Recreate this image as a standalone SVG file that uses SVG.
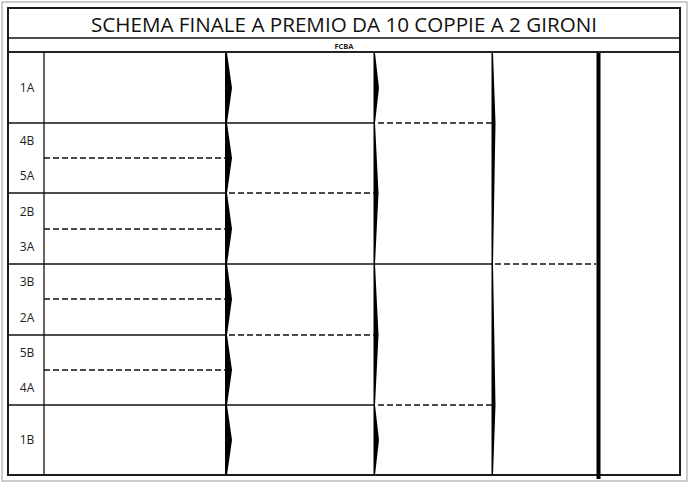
<svg xmlns="http://www.w3.org/2000/svg" width="690" height="484" viewBox="0 0 690 484">
<style>
.frame{fill:none;stroke:#1a1a1a;stroke-width:2}
.solid{stroke:#111;stroke-width:1.3}
.dash{stroke:#111;stroke-width:1.3;stroke-dasharray:6,3}
.lbl{font-family:"Open Sans","Liberation Sans",sans-serif;font-size:12px;fill:#222;text-anchor:middle}
.wedge{fill:#000}
</style>
<rect x="0" y="0" width="690" height="484" fill="#fff"/>
<rect x="2" y="2" width="685" height="479" fill="none" stroke="#999" stroke-width="1"/>
<g id="title">
<text x="344" y="32" font-family="'Open Sans','Liberation Sans',sans-serif" font-size="20" fill="#111" text-anchor="middle" textLength="506" lengthAdjust="spacingAndGlyphs">SCHEMA FINALE A PREMIO DA 10 COPPIE A 2 GIRONI</text>
<text x="344" y="49" font-family="'Open Sans','Liberation Sans',sans-serif" font-size="7.5" font-weight="bold" fill="#222" text-anchor="middle">FCBA</text>
</g>
<g id="grid">
<rect class="frame" x="8" y="8" width="672" height="467"/>
<line class="solid" x1="8" y1="38" x2="680" y2="38"/>
<line x1="8" y1="52" x2="680" y2="52" stroke="#222" stroke-width="2"/>
<line class="solid" x1="44" y1="52" x2="44" y2="475"/>
</g>
<g id="labels">
<text class="lbl" x="27" y="92">1A</text>
<text class="lbl" x="27" y="145">4B</text>
<text class="lbl" x="27" y="180">5A</text>
<text class="lbl" x="27" y="216">2B</text>
<text class="lbl" x="27" y="251">3A</text>
<text class="lbl" x="27" y="286">3B</text>
<text class="lbl" x="27" y="322">2A</text>
<text class="lbl" x="27" y="357">5B</text>
<text class="lbl" x="27" y="392">4A</text>
<text class="lbl" x="27" y="444">1B</text>
</g>
<g id="connectors">
<line class="solid" x1="8" y1="123" x2="375" y2="123"/>
<line class="dash" x1="378" y1="123" x2="492" y2="123"/>
<line class="dash" x1="44" y1="158" x2="226" y2="158"/>
<line class="solid" x1="8" y1="193" x2="226" y2="193"/>
<line class="dash" x1="229" y1="193" x2="374" y2="193"/>
<line class="dash" x1="44" y1="229" x2="226" y2="229"/>
<line class="solid" x1="8" y1="264" x2="493" y2="264"/>
<line class="dash" x1="495" y1="264" x2="596" y2="264"/>
<line class="dash" x1="44" y1="299" x2="226" y2="299"/>
<line class="solid" x1="8" y1="335" x2="226" y2="335"/>
<line class="dash" x1="229" y1="335" x2="374" y2="335"/>
<line class="dash" x1="44" y1="370" x2="226" y2="370"/>
<line class="solid" x1="8" y1="405" x2="375" y2="405"/>
<line class="dash" x1="378" y1="405" x2="492" y2="405"/>
</g>
<g id="bracket1">
<polygon class="wedge" points="225,53 227,53 232,88 227,123 227,123 232,158 227,193 232,229 227,264 232,299 227,335 232,370 227,405 232,440 227,475 225,475"/>
</g>
<g id="bracket2">
<polygon class="wedge" points="373.5,53 375,53 379,88 375,123 378.5,193 375,264 378.5,335 375,405 379,440 375,475 373.5,475"/>
</g>
<g id="bracket3">
<polygon class="wedge" points="491.5,53 493,53 495.5,123 493,264 495.5,405 493,475 491.5,475"/>
</g>
<g id="bracket4">
<rect class="wedge" x="596.5" y="53" width="4" height="426"/>
</g>
</svg>
